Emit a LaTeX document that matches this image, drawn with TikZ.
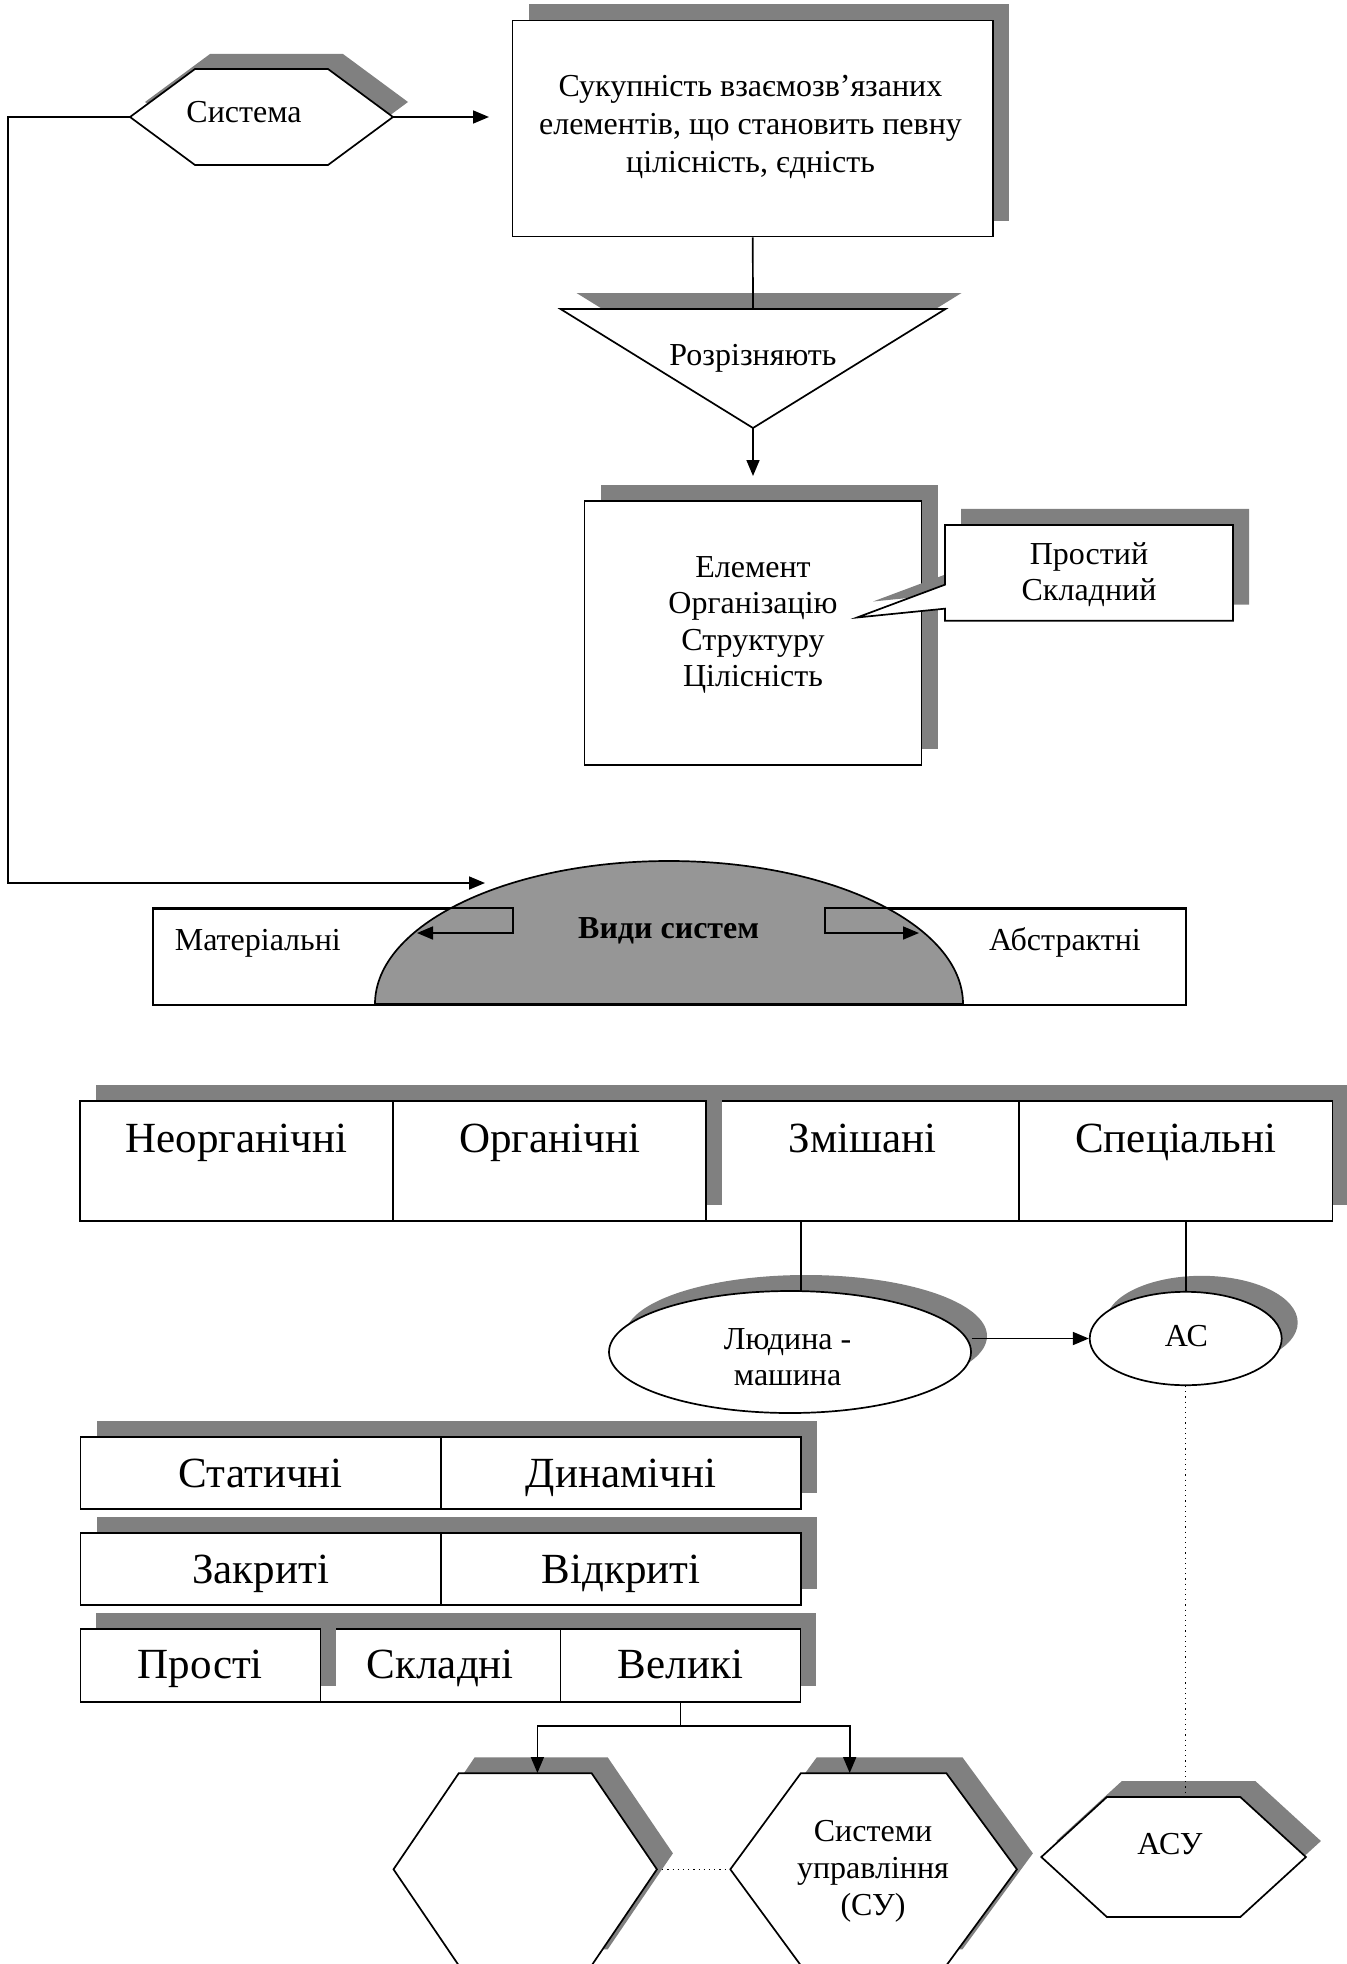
\documentclass[tikz,border=0pt]{standalone}
\usepackage{fontspec}
\setmainfont{Liberation Serif}
\usetikzlibrary{arrows.meta,shapes.geometric,shapes.callouts,shadows}
\definecolor{shcol}{RGB}{128,128,128}
\definecolor{domecol}{RGB}{150,150,150}
\tikzset{
  ln/.style={line width=0.85pt},
  arr/.style={ln,-{Triangle[length=8pt,width=6.5pt]}},
  shd/.style={general shadow={fill=shcol,shadow xshift=8pt,shadow yshift=8pt}},
  box/.style={draw,ln,fill=white,rectangle,inner sep=0pt,shd},
  plainbox/.style={draw,ln,fill=white,rectangle,inner sep=0pt},
  oval/.style={draw,ln,fill=white,ellipse,inner sep=0pt,shd},
  txt/.style={inner sep=0pt,anchor=base,font=\fontsize{16}{18.75}\selectfont},
  btxt/.style={inner sep=0pt,anchor=base,font=\bfseries\fontsize{16}{18.75}\selectfont},
  big/.style={inner sep=0pt,anchor=base,font=\fontsize{21.5}{25}\selectfont},
  dots/.style={line width=0.6pt,dotted},
  shfill/.style={fill=shcol},
  wfill/.style={draw,ln,fill=white},
}
\begin{document}
\begin{tikzpicture}[x=0.5pt,y=-0.5pt]
\useasboundingbox (0,0) rectangle (1347,1964);
\clip (0,0) rectangle (1347,1964);

% ---------- Система hexagon ----------
\fill[shfill,shift={(15,-15)}] (130,117) -- (195,69) -- (328,69) -- (393,117) -- (328,165) -- (195,165) -- cycle;
\path[wfill] (130,117) -- (195,69) -- (328,69) -- (393,117) -- (328,165) -- (195,165) -- cycle;
\coordinate (sysL) at (130,117);
\coordinate (sysR) at (393,117);
\node[txt] (sys) at (244,122.7) {Система};

% ---------- definition box ----------
\node[box,minimum width=240.25pt,minimum height=108pt] (def) at (752.75,128.5) {};
\node[txt] (def1) at (750.5,97) {Сукупність взаємозв’язаних};
\node[txt] (def2) at (750.5,134.5) {елементів, що становить певну};
\node[txt] (def3) at (750.5,172) {цілісність, єдність};
\coordinate (sysEnd) at (489,117);
\draw[arr] (sysR) -- (sysEnd);

% ---------- triangle ----------
\fill[shfill,shift={(16,-16)}] (560.5,309) -- (945.5,309) -- (753,428) -- cycle;
\path[wfill] (560.5,309) -- (945.5,309) -- (753,428) -- cycle;
\coordinate (triT) at (753,309);
\coordinate (triB) at (753,428);
\node[txt] (raz) at (753,365) {Розрізняють};
\draw[ln] (def.south) -- (triT);
\coordinate (triEnd) at (753,476);
\draw[arr] (triB) -- (triEnd);

% ---------- element box and callout ----------
\node[box,minimum width=168.5pt,minimum height=132pt] (elem) at (753.1,633) {};
\node[rectangle callout,draw,ln,fill=white,shd,inner sep=0pt,
      minimum width=144pt,minimum height=47.85pt,
      callout absolute pointer={(857,617.5)},callout pointer width=12pt] (cal) at (1089,572.8) {};
\node[txt] (el1) at (753,577) {Елемент};
\node[txt] (el2) at (753,613.5) {Організацію};
\node[txt] (el3) at (753,650) {Структуру};
\node[txt] (el4) at (753,686.5) {Цілісність};
\node[txt] (cal1) at (1089,564) {Простий};
\node[txt] (cal2) at (1089,600) {Складний};

% ---------- Види систем ----------
\coordinate (loopA) at (8,117);
\coordinate (loopB) at (8,883);
\coordinate (vidIn) at (485,883);
\draw[arr] (sysL) -- (loopA) -- (loopB) -- (vidIn);
\node[plainbox,minimum width=516.5pt,minimum height=48pt] (vrect) at (669.5,957) {};
\filldraw[ln,fill=domecol] (375,1004) arc[start angle=180,end angle=360,x radius=294,y radius=143] -- cycle;
\node[btxt] (vid) at (668.7,938.3) {Види систем};
\node[txt] (mat) at (257.8,950) {Матеріальні};
\node[txt] (abs) at (1065,950) {Абстрактні};
\coordinate (vL) at (513,933);
\coordinate (vLa) at (417,933);
\coordinate (vR) at (825,933);
\coordinate (vRa) at (919,933);
\draw[arr] (vrect.north west) -| (vL) -- (vLa);
\draw[arr] (vrect.north east) -| (vR) -- (vRa);

% ---------- four-cell row ----------
\node[box,minimum width=156.55pt,minimum height=59.8pt] (neo) at (236.55,1160.85) {};
\node[box,minimum width=156.55pt,minimum height=59.8pt] (zmi) at (862.75,1160.85) {};
\node[box,minimum width=156.55pt,minimum height=59.8pt] (org) at (549.65,1160.85) {};
\node[box,minimum width=156.55pt,minimum height=59.8pt] (spe) at (1175.85,1160.85) {};
\node[big] (neoT) at (236.55,1152) {Неорганічні};
\node[big] (orgT) at (549.65,1152) {Органічні};
\node[big] (zmiT) at (862.75,1152) {Змішані};
\node[big] (speT) at (1175.85,1152) {Спеціальні};

% ---------- ellipses ----------
\node[oval,minimum width=181pt,minimum height=61pt] (lm) at (790,1352) {};
\node[oval,minimum width=96pt,minimum height=46.7pt] (ac) at (1185.7,1338.5) {};
\node[txt] (lm1) at (787.6,1349.3) {Людина -};
\node[txt] (lm2) at (787.6,1385) {машина};
\node[txt] (acT) at (1186.4,1346) {АС};
\coordinate (lmtop) at (801,1292);
\draw[ln] (zmi.south -| lmtop) -- (lmtop);
\draw[ln] (spe.south -| ac.north) -- (ac.north);
\draw[arr] (lm.east |- ac.west) -- (ac.west);

% ---------- rows ----------
\node[box,minimum width=180.2pt,minimum height=36pt] (stat) at (260.7,1473.3) {};
\node[box,minimum width=180.2pt,minimum height=36pt] (dyn) at (621,1473.3) {};
\node[box,minimum width=180.2pt,minimum height=36pt] (zak) at (260.7,1569) {};
\node[box,minimum width=180.2pt,minimum height=36pt] (vdk) at (621,1569) {};
\node[box,minimum width=120pt,minimum height=36.2pt] (skl) at (440.4,1665.5) {};
\node[box,minimum width=120pt,minimum height=36.2pt] (pro) at (200.4,1665.5) {};
\node[box,minimum width=120pt,minimum height=36.2pt] (vel) at (680.4,1665.5) {};
\node[big] (statT) at (260.7,1487) {Статичні};
\node[big] (dynT) at (621,1487) {Динамічні};
\node[big] (zakT) at (260.7,1583) {Закриті};
\node[big] (vdkT) at (621,1583) {Відкриті};
\node[big] (proT) at (200.4,1678) {Прості};
\node[big] (sklT) at (440.4,1678) {Складні};
\node[big] (velT) at (680.4,1678) {Великі};

% ---------- bottom hexagons ----------
\fill[shfill,shift={(16,-16)}] (393.5,1869.3) -- (458.7,1773.3) -- (591.7,1773.3) -- (656.9,1869.3) -- (591.7,1965.3) -- (458.7,1965.3) -- cycle;
\path[wfill] (393.5,1869.3) -- (458.7,1773.3) -- (591.7,1773.3) -- (656.9,1869.3) -- (591.7,1965.3) -- (458.7,1965.3) -- cycle;
\fill[shfill,shift={(16,-16)}] (730.3,1869.3) -- (800.75,1773.3) -- (946.45,1773.3) -- (1016.9,1869.3) -- (946.45,1965.3) -- (800.75,1965.3) -- cycle;
\path[wfill] (730.3,1869.3) -- (800.75,1773.3) -- (946.45,1773.3) -- (1016.9,1869.3) -- (946.45,1965.3) -- (800.75,1965.3) -- cycle;
\fill[shfill,shift={(15,-16)}] (1041.3,1857) -- (1106.9,1797) -- (1240.3,1797) -- (1305.9,1857) -- (1240.3,1917) -- (1106.9,1917) -- cycle;
\path[wfill] (1041.3,1857) -- (1106.9,1797) -- (1240.3,1797) -- (1305.9,1857) -- (1240.3,1917) -- (1106.9,1917) -- cycle;
\node[txt] (su1) at (873,1841.7) {Системи};
\node[txt] (su2) at (873,1878) {управління};
\node[txt] (su3) at (873,1915) {(СУ)};
\node[txt] (asu) at (1170,1854) {АСУ};
\coordinate (hLt) at (537.4,1773);
\coordinate (hRt) at (849.7,1773);
\coordinate (hLr) at (656.9,1869.3);
\coordinate (hRl) at (730.3,1869.3);
\coordinate (asuTop) at (1185.7,1797);
\coordinate (brk) at (680.4,1726);
\draw[ln] (vel.south) -- (brk);
\draw[arr] (brk) -| (hLt);
\draw[arr] (brk) -| (hRt);
\draw[dots] (hLr) -- (hRl);
\draw[dots] (ac.south) -- (asuTop);
\end{tikzpicture}
\end{document}
